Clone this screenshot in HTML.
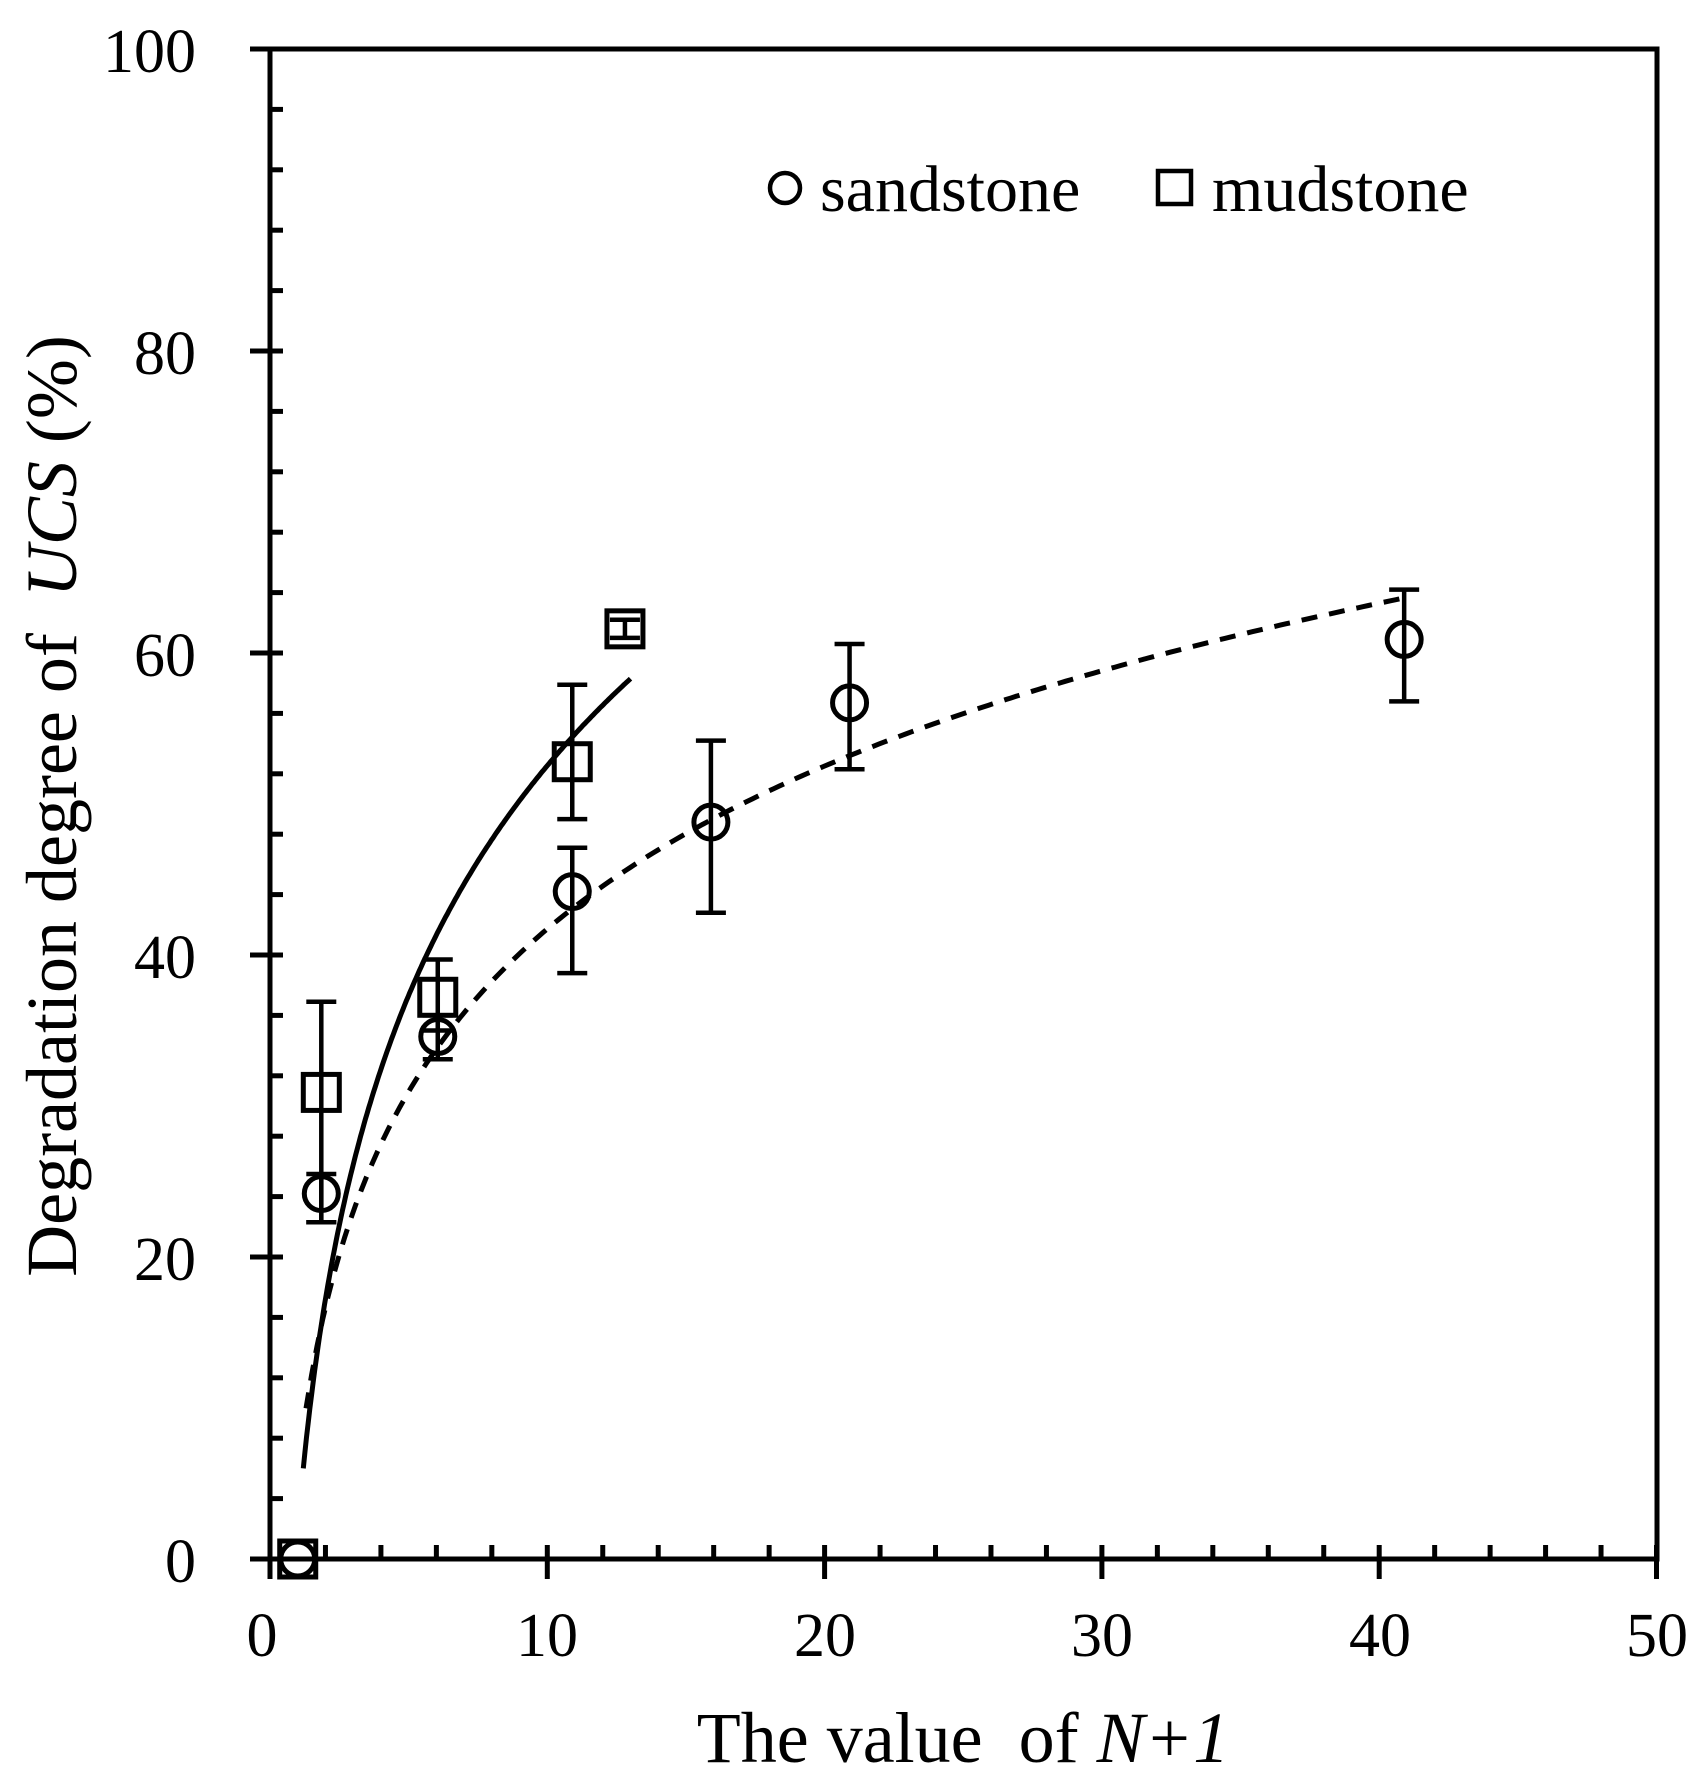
<!DOCTYPE html>
<html><head><meta charset="utf-8"><style>
html,body{margin:0;padding:0;background:#fff;}
svg{display:block;}
text{font-family:"Liberation Serif",serif;fill:#000;}
</style></head><body>
<svg width="1701" height="1790" viewBox="0 0 1701 1790" xmlns="http://www.w3.org/2000/svg">
<g stroke="#000" stroke-width="5" fill="none">
<rect x="270" y="49" width="1387" height="1510"/>
</g>
<g id="ticks" stroke="#000" stroke-width="5"></g>
<g font-size="62" text-anchor="end">
<text x="196" y="72">100</text>
<text x="196" y="374">80</text>
<text x="196" y="676">60</text>
<text x="196" y="978">40</text>
<text x="196" y="1280">20</text>
<text x="196" y="1582">0</text>
</g>
<g font-size="62" text-anchor="middle">
<text x="262" y="1656">0</text>
<text x="547" y="1656">10</text>
<text x="825" y="1656">20</text>
<text x="1102" y="1656">30</text>
<text x="1380" y="1656">40</text>
<text x="1657" y="1656">50</text>
</g>
<text x="963" y="1762" font-size="72" text-anchor="middle">The value&#160; of <tspan font-style="italic">N+1</tspan></text>
<text transform="translate(76,806) rotate(-90)" font-size="72" text-anchor="middle">Degradation degree of&#160; <tspan font-style="italic">UCS</tspan> (%)</text>
<g font-size="66">
<circle cx="785" cy="188" r="15" fill="none" stroke="#000" stroke-width="4.5"/>
<text x="820" y="211">sandstone</text>
<rect x="1158" y="171" width="33" height="33" fill="none" stroke="#000" stroke-width="4.5"/>
<text x="1212" y="211">mudstone</text>
</g>
<g id="plot" fill="none" stroke="#000"></g>
<script>
var NS="http://www.w3.org/2000/svg";
function px(x){return 270+27.73*x;} function py(y){return 1559-15.1*y;}
function el(p,t,a){var e=document.createElementNS(NS,t);for(var k in a)e.setAttribute(k,a[k]);p.appendChild(e);return e;}
var T=document.getElementById('ticks');
for(var v=0;v<=100;v+=4){var y=py(v);if(v%20==0)el(T,'line',{x1:250,x2:283,y1:y,y2:y});else el(T,'line',{x1:270,x2:283,y1:y,y2:y});}
for(var v=0;v<=50;v+=2){var x=px(v);if(v%10==0)el(T,'line',{x1:x,x2:x,y1:1545,y2:1579});else el(T,'line',{x1:x,x2:x,y1:1545,y2:1559});}
var P=document.getElementById('plot');
function curve(a,b,x0,x1,dash){var d='';for(var i=0;i<=200;i++){var x=x0+(x1-x0)*i/200;var y=a*Math.log(x)+b;d+=(i?'L':'M')+px(x).toFixed(1)+' '+py(y).toFixed(1);}
var o={d:d,'stroke-width':5};if(dash)o['stroke-dasharray']=dash;el(P,'path',o);}
curve(21.95,2,1.2,13,null);
curve(15.56,5.9,1.3,41,'16 12');
function err(x,lo,hi){var X=px(x);el(P,'line',{x1:X,x2:X,y1:py(hi),y2:py(lo),'stroke-width':4.5});
el(P,'line',{x1:X-15,x2:X+15,y1:py(hi),y2:py(hi),'stroke-width':4.5});el(P,'line',{x1:X-15,x2:X+15,y1:py(lo),y2:py(lo),'stroke-width':4.5});}
var S=[[1,0],[1.85,24.2,22.3,25.5],[6.05,34.6,33.1,36],[10.9,44.2,38.8,47.1],[15.9,48.8,42.8,54.2],[20.9,56.7,52.3,60.6],[40.9,60.9,56.8,64.2]];
var M=[[1,0],[1.85,30.9,22.3,36.9],[6.05,37.2,35,39.7],[10.9,52.8,49,57.9],[12.8,61.6,61,62.2]];
S.forEach(function(p){if(p.length>2)err(p[0],p[2],p[3]);});
M.forEach(function(p){if(p.length>2)err(p[0],p[2],p[3]);});
S.forEach(function(p){el(P,'circle',{cx:px(p[0]),cy:py(p[1]),r:17,'stroke-width':5});});
M.forEach(function(p){el(P,'rect',{x:px(p[0])-18,y:py(p[1])-18,width:36,height:36,'stroke-width':5});});
</script>
</svg>
</body></html>
